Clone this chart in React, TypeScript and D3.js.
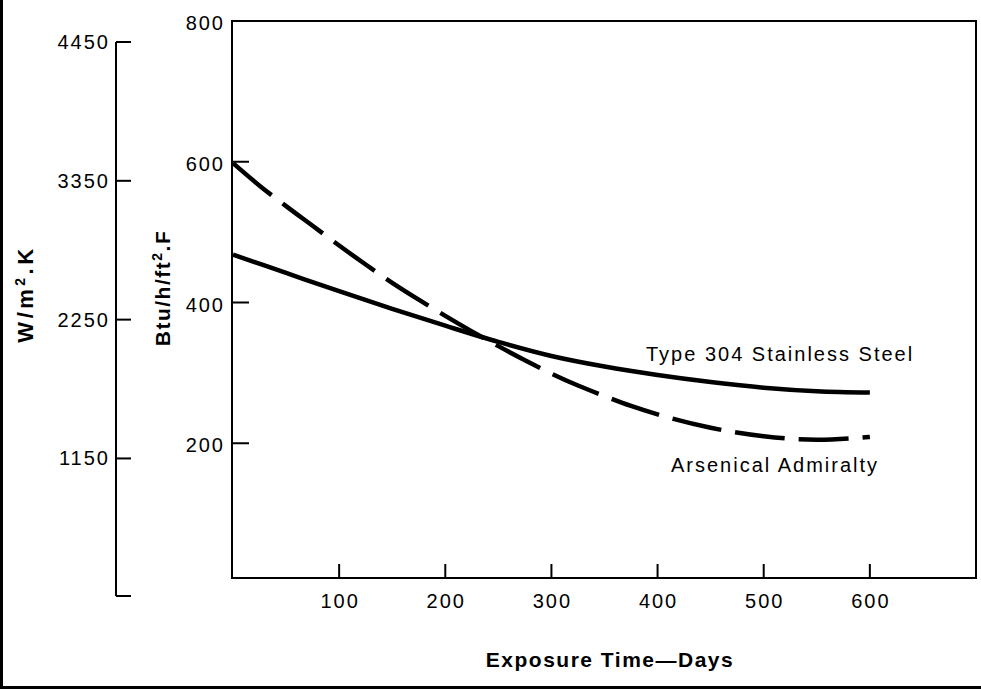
import React from 'react';
import * as d3 from 'd3';

const W = 981;
const H = 692;

// Data (heat-transfer coefficient vs exposure time)
const stainlessDays = [0, 50, 100, 150, 200, 250, 300, 350, 400, 450, 500, 550, 600];
const stainlessBtu = [468, 442, 416, 391, 367, 344, 324, 309, 297, 287, 279, 274, 272];
const arsenicalDays = [0, 25, 50, 75, 100, 125, 150, 175, 200, 225, 250, 275, 300, 325, 350, 375, 400, 450, 500, 550, 600];
const arsenicalBtu = [598, 566, 537, 509, 481, 454, 428, 404, 381, 359, 338, 318, 299, 282, 267, 253, 241, 222, 210, 205, 209];

const dayTicks = [100, 200, 300, 400, 500, 600];
const btuTicks = [200, 400, 600];
const btuTop = 800;
const wTicks = [1150, 2250, 3350, 4450];
const wMin = 60;

const seriesLabels = ['Type 304 Stainless Steel', 'Arsenical Admiralty'];
const xTitle = 'Exposure Time\u2014Days';

const font = '"Liberation Sans", Arial, Helvetica, sans-serif';

export default function App() {
  const x = d3.scaleLinear().domain([0, 700]).range([233, 976]);
  const y = d3.scaleLinear().domain([0, 800]).range([584, 21]);
  const yW = d3.scaleLinear().domain([wMin, 4450]).range([596, 42]);
  const frameBottom = 578;
  const frameLeft = 232;
  const wAxisX = 116;
  const ls = 2;

  const line = d3
    .line<[number, number]>()
    .x((d) => x(d[0]))
    .y((d) => y(d[1]))
    .curve(d3.curveMonotoneX);

  const sPts = stainlessDays.map((d, i) => [d, stainlessBtu[i]] as [number, number]);
  const aPts = arsenicalDays.map((d, i) => [d, arsenicalBtu[i]] as [number, number]);

  return (
    <svg
      width={W}
      height={H}
      style={{ position: 'absolute', left: 0, top: 0, background: '#fff' }}
      fontFamily={font}
    >
      <rect x={0} y={0} width={W} height={H} fill="#fff" />
      {/* outer border (left and bottom visible) */}
      <path d={`M1.5,-5 V687.5 H${W + 5}`} fill="none" stroke="#000" strokeWidth={3} />

      {/* secondary left axis W/m2.K */}
      <line x1={wAxisX} x2={wAxisX} y1={yW(4450)} y2={yW(wMin)} stroke="#000" strokeWidth={2} />
      {wTicks.map((t) => (
        <g key={t}>
          <line x1={wAxisX} x2={wAxisX + 15} y1={yW(t)} y2={yW(t)} stroke="#000" strokeWidth={2} />
          <text x={wAxisX - 8 + ls} y={yW(t) + 7} textAnchor="end" fontSize={20} letterSpacing={ls} fill="#000">
            {t}
          </text>
        </g>
      ))}
      <line x1={wAxisX} x2={wAxisX + 15} y1={yW(wMin)} y2={yW(wMin)} stroke="#000" strokeWidth={2} />

      {/* plot frame */}
      <path
        d={`M${frameLeft},${y(btuTop)} H${x(700)} V${frameBottom} H${frameLeft} Z`}
        fill="none"
        stroke="#000"
        strokeWidth={2}
      />

      {/* Btu axis ticks */}
      {btuTicks.map((t) => (
        <line key={t} x1={frameLeft} x2={frameLeft + 17} y1={y(t)} y2={y(t)} stroke="#000" strokeWidth={2} />
      ))}
      {[...btuTicks, btuTop].map((t) => (
        <text key={t} x={frameLeft - 9 + ls} y={y(t) + 9} textAnchor="end" fontSize={20} letterSpacing={ls} fill="#000">
          {t}
        </text>
      ))}

      {/* x axis ticks */}
      {dayTicks.map((t) => (
        <g key={t}>
          <line x1={x(t)} x2={x(t)} y1={frameBottom} y2={frameBottom - 14} stroke="#000" strokeWidth={2} />
          <text x={x(t) + ls / 2} y={608} textAnchor="middle" fontSize={20} letterSpacing={ls} fill="#000">
            {t}
          </text>
        </g>
      ))}

      {/* curves */}
      <path d={line(sPts) || ''} fill="none" stroke="#000" strokeWidth={4.5} />
      <path d={line(aPts) || ''} fill="none" stroke="#000" strokeWidth={4.5} strokeDasharray="50 14" />

      {/* series labels */}
      <text x={646} y={361} fontSize={20} letterSpacing={ls} fill="#000">
        {seriesLabels[0]}
      </text>
      <text x={671} y={472} fontSize={20} letterSpacing={ls} fill="#000">
        {seriesLabels[1]}
      </text>

      {/* axis titles */}
      <text x={610} y={667} textAnchor="middle" fontSize={21} fontWeight="bold" letterSpacing={1.5} fill="#000">
        {xTitle}
      </text>
      <text
        transform="translate(33,294) rotate(-90)"
        textAnchor="middle"
        fontSize={22}
        fontWeight="bold"
        letterSpacing={3.5}
        fill="#000"
      >
        W/m<tspan fontSize={14} dy={-8}>2</tspan>
        <tspan dy={8}>.K</tspan>
      </text>
      <text
        transform="translate(170,288) rotate(-90)"
        textAnchor="middle"
        fontSize={21}
        fontWeight="bold"
        letterSpacing={1.5}
        fill="#000"
      >
        Btu/h/ft<tspan fontSize={14} dy={-8}>2</tspan>
        <tspan dy={8}>.F</tspan>
      </text>
    </svg>
  );
}
